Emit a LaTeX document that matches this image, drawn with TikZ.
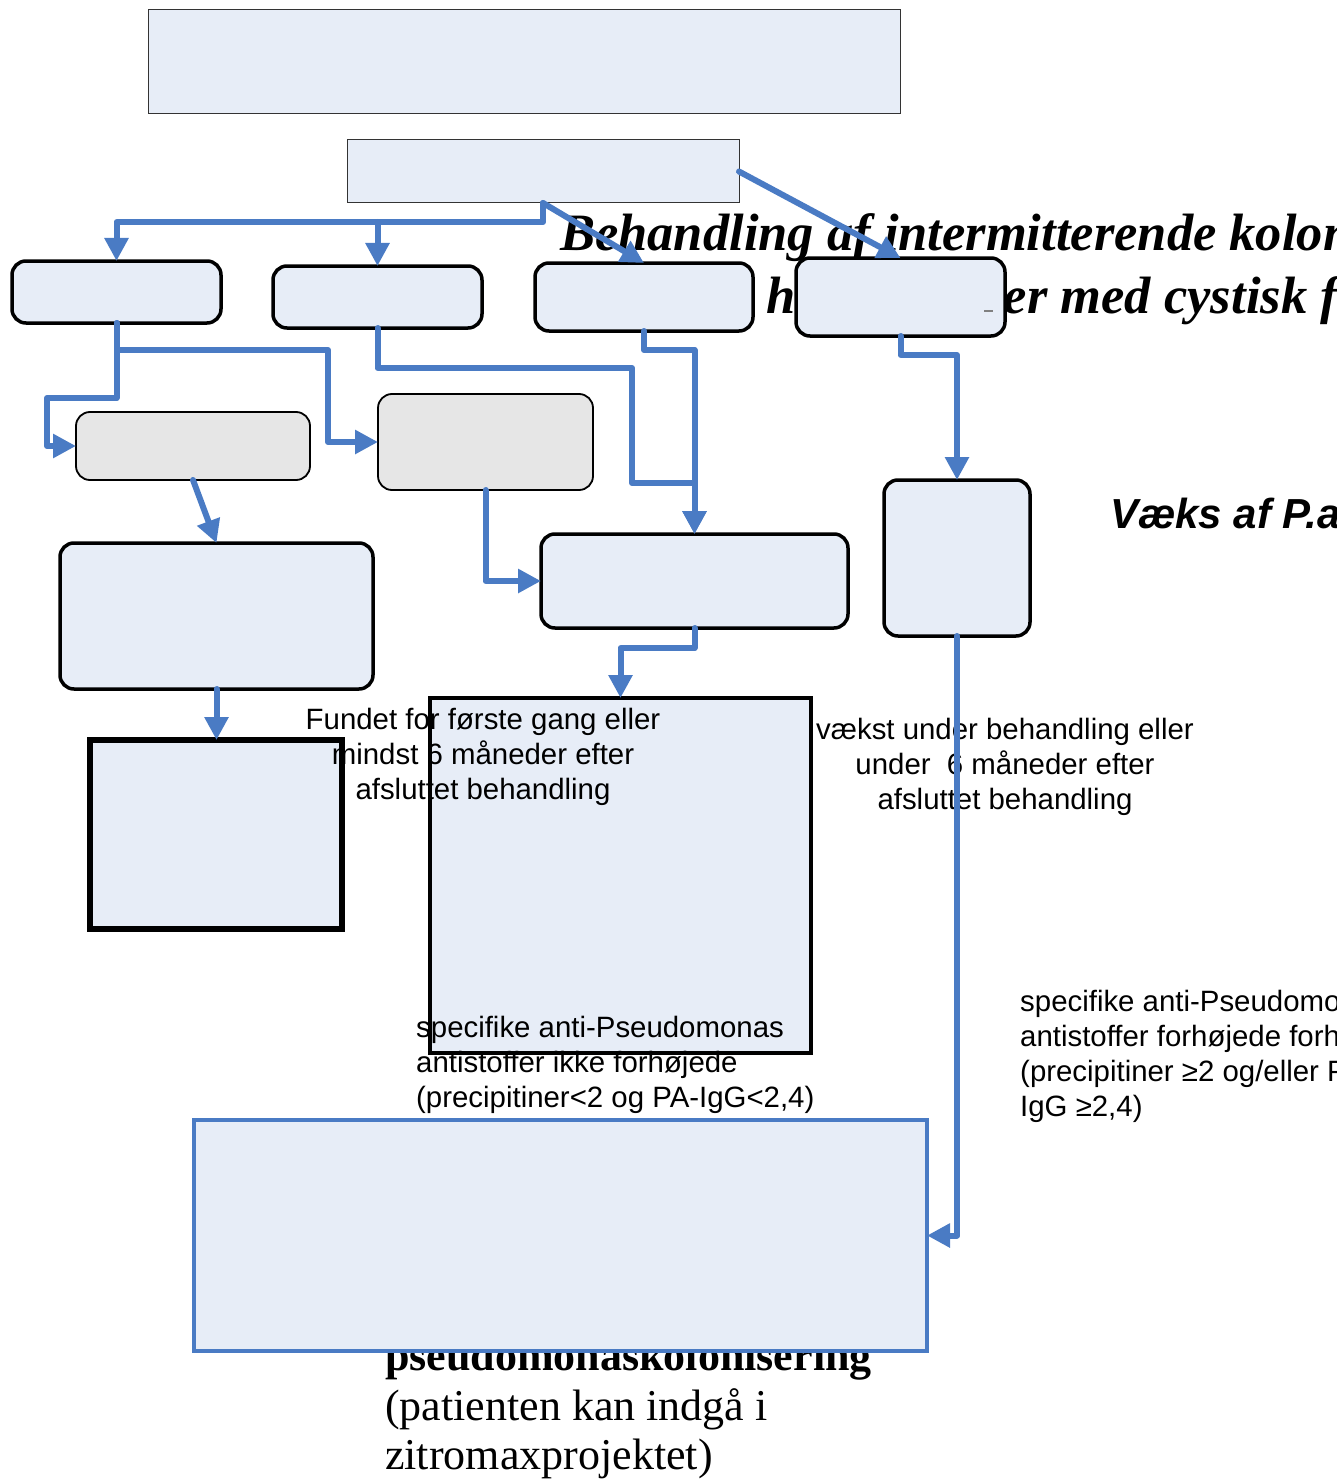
\documentclass[tikz,border=0pt]{standalone}
\usepackage{fontspec}
\setmainfont{Liberation Serif}
\setsansfont{Liberation Sans}
\usetikzlibrary{arrows.meta}
\definecolor{pblue}{HTML}{4A7BC4}
\definecolor{lblue}{HTML}{E7EDF7}
\definecolor{lgray}{HTML}{E6E6E6}
\begin{document}
\begin{tikzpicture}[x=1pt,y=-1pt,
  rbox/.style={draw=black, fill=lblue, line width=3.5pt, rounded corners=14pt, inner sep=0pt, outer sep=0pt},
  gbox/.style={draw=black, fill=lgray, line width=1.8pt, rounded corners=14pt, inner sep=0pt, outer sep=0pt},
  pbox/.style={draw=black!80, fill=lblue, line width=1pt, inner sep=0pt, outer sep=0pt},
  fbox/.style={fill=lblue, inner sep=0pt, outer sep=0pt},
  conn/.style={draw=pblue, line width=6pt, line cap=round, line join=round, -{Triangle[length=23pt,width=23pt]}},
  lbl/.style={font=\sffamily\fontsize{29.4}{35}\selectfont, inner sep=0pt, anchor=base},
  lbll/.style={font=\sffamily\fontsize{29.4}{35}\selectfont, inner sep=0pt, anchor=base west},
  ttl/.style={font=\fontsize{52.5}{61}\selectfont\bfseries\itshape, inner sep=0pt, anchor=base west},
  btxt/.style={font=\fontsize{44}{50}\selectfont, inner sep=0pt, anchor=base west}
]
\useasboundingbox (0,0) rectangle (1337,1479);
\clip (0,0) rectangle (1337,1479);

% title text (behind boxes)
\node[ttl] (t1) at (560,251) {Behandling af intermitterende kolonisering};
\node[ttl] (t2) at (766,313) {hos patienter med cystisk fibrose};

% boxes
\node[pbox, minimum width=752pt, minimum height=104pt] (top) at (524,62) {};
\node[pbox, minimum width=392pt, minimum height=63pt] (sec) at (543,171.5) {};
\node[rbox, minimum width=209pt, minimum height=62pt] (A) at (116.5,292) {};
\node[rbox, minimum width=209pt, minimum height=62pt] (B) at (377.5,297) {};
\node[rbox, minimum width=218pt, minimum height=68pt] (C) at (644,297) {};
\node[rbox, minimum width=209pt, minimum height=78pt] (D) at (900.5,297) {};
\draw[gray, line width=1.5pt] (984,311) -- (993,311);
\node[gbox, minimum width=234pt, minimum height=68pt] (E) at (193,446) {};
\node[gbox, minimum width=215pt, minimum height=96pt] (F) at (485.5,442) {};
\node[rbox, minimum width=313pt, minimum height=146pt] (G) at (216.5,616) {};
\node[rbox, minimum width=307pt, minimum height=94pt] (H) at (694.5,581) {};
\node[rbox, minimum width=146pt, minimum height=156pt] (I) at (957,558) {};
\node[fbox, minimum width=252pt, minimum height=189pt] (J) at (216,834.5) {};
\node[fbox, minimum width=381pt, minimum height=355pt] (K) at (620.5,875.5) {};

% labels
\node[font=\sffamily\fontsize{42}{50}\selectfont\bfseries\itshape, inner sep=0pt, anchor=base west] (v) at (1110,528) {Væks af P.aeruginosa};

\node[lbl] (f1) at (483,729) {Fundet for første gang eller};
\node[lbl] (f2) at (483,764) {mindst 6 måneder efter};
\node[lbl] (f3) at (483,799) {afsluttet behandling};

\node[lbl] (u1) at (1005,739) {vækst under behandling eller};
\node[lbl] (u2) at (1005,774) {under\ \ 6 måneder efter};
\node[lbl] (u3) at (1005,809) {afsluttet behandling};

\node[lbll] (s1) at (416,1037) {specifike anti-Pseudomonas};
\node[lbll] (s2) at (416,1072) {antistoffer ikke forhøjede};
\node[lbll] (s3) at (416,1107) {(precipitiner<2 og PA-IgG<2,4)};

\node[lbll] (r1) at (1020,1011) {specifike anti-Pseudomonas};
\node[lbll] (r2) at (1020,1046) {antistoffer forhøjede forhold};
\node[lbll] (r3) at (1020,1081) {(precipitiner ≥2 og/eller PA-};
\node[lbll] (r4) at (1020,1116) {IgG ≥2,4)};

% borders of the square boxes over the text
\draw[black, line width=6pt] (J.north west) rectangle (J.south east);
\draw[black, line width=4.5pt] (K.north west) rectangle (K.south east);

% bottom text and box
\node[btxt, font=\fontsize{44}{50}\selectfont\bfseries] (b1) at (385,1370) {pseudomonaskolonisering};
\node[btxt] (b2) at (385,1420) {(patienten kan indgå i};
\node[btxt] (b3) at (385,1469) {zitromaxprojektet)};
\node[draw=pblue, fill=lblue, line width=4pt, inner sep=0pt, outer sep=0pt, minimum width=733pt, minimum height=231pt] (bot) at (560.5,1235.5) {};

% connectors
\coordinate (j1) at (543,222);
\draw[conn] (sec.south) -- (j1) -| (A.north);
\draw[conn] (j1 -| B.north) -- (B.north);
\draw[conn] (sec.south) -- (C.north);
\draw[conn] (sec.east) -- (D.north);
\draw[conn] (A.south) |- (328,350) |- (F.west);
\draw[conn] (A.south) |- (47,398) |- (E.west);
\draw[conn] (B.south) |- (632,368) |- (H.north |- 0,483) -- (H.north);
\draw[conn] (C.south) |- (H.north |- 0,350) -- (H.north);
\draw[conn] (D.south) |- (I.north |- 0,355) -- (I.north);
\draw[conn] (E.south) -- (G.north);
\draw[conn] (F.south) |- (H.west);
\draw[conn] (G.south) -- (G.south |- J.north);
\draw[conn] (H.south) -- ++(0,20) -| (K.north);
\draw[conn] (I.south) |- (bot.east);
\end{tikzpicture}
\end{document}
